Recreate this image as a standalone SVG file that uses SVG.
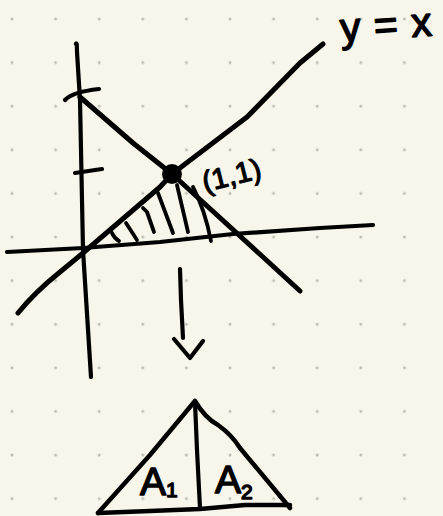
<svg xmlns="http://www.w3.org/2000/svg" width="443" height="516" viewBox="0 0 443 516">
<defs>
<pattern id="dots" x="0" y="0" width="43.6" height="43.6" patternUnits="userSpaceOnUse" patternTransform="translate(12,19)">
<circle cx="0" cy="0" r="1.5" fill="#bdbcb4"/>
<circle cx="43.6" cy="0" r="1.5" fill="#bdbcb4"/>
<circle cx="0" cy="43.6" r="1.5" fill="#bdbcb4"/>
<circle cx="43.6" cy="43.6" r="1.5" fill="#bdbcb4"/>
</pattern>
</defs>
<style>
.s{fill:none;stroke:#000;stroke-linecap:round;stroke-linejoin:round}
.t{font-family:"Liberation Sans","DejaVu Sans",sans-serif;fill:#000;stroke:#000;stroke-linejoin:round}
</style>
<rect width="443" height="516" fill="#f8f6eb"/>
<rect width="443" height="516" fill="url(#dots)"/>
<g id="axes">
<path class="s" stroke-width="4.2" d="M76,44 Q77,41 77,52 L80,100 L83,250 L91,377"/>
<path class="s" stroke-width="4.2" d="M7,252 L83,248 L160,242 L233,234 L320,228 L373,225"/>
<path class="s" stroke-width="4.2" d="M65,100 Q72,92 99,89"/>
<path class="s" stroke-width="4.2" d="M75,173 L102,169"/>
</g>
<g id="lines">
<path class="s" stroke-width="5" d="M80,97 L133,143 L172,174 L263,257 L300,291"/>
<path class="s" stroke-width="5" d="M18,313 Q35,292 60,272 L83,253 L160,187 L172,174 L247,117 L300,63 L323,44"/>
</g>
<g id="hatch">
<path class="s" stroke-width="3.8" d="M112,233 Q114,238 119,241"/>
<path class="s" stroke-width="3.8" d="M126,223 L137,240"/>
<path class="s" stroke-width="3.8" d="M143,208 L147,212 L154,232"/>
<path class="s" stroke-width="3.8" d="M158,193 L173,233"/>
<path class="s" stroke-width="3.8" d="M177,185 L188,232"/>
<path class="s" stroke-width="3.8" d="M193,187 Q205,210 211,241"/>
</g>
<g id="point">
<circle cx="172" cy="174" r="10" fill="#000"/>
<text class="t" x="205" y="192" font-size="29" stroke-width="1.2" transform="rotate(-14 205 192)">(1,1)</text>
</g>
<text id="label-yx" class="t" x="341" y="42" font-size="41" stroke-width="1.5" letter-spacing="1" transform="rotate(-4 341 42)">y = x</text>
<g id="arrow">
<path class="s" stroke-width="4.2" d="M180,269 L181,300 L183,338"/>
<path class="s" stroke-width="4.2" d="M174,339 L190,358 L203,341"/>
</g>
<g id="triangle">
<path class="s" stroke-width="4.5" d="M98,513 L150,455 L195,401 Q205,418 218,425 Q232,435 240,448 L290,508"/>
<path class="s" stroke-width="4.5" d="M98,513 L150,511 L200,509 L245,505 L290,505"/>
<path class="s" stroke-width="4.2" d="M195,402 L197,450 L200,508"/>
<text class="t" x="140" y="495" font-size="39" stroke-width="1.5">A<tspan font-size="21" dy="2">1</tspan></text>
<text class="t" x="215" y="493" font-size="39" stroke-width="1.5">A<tspan font-size="21" dy="6">2</tspan></text>
</g>
</svg>
